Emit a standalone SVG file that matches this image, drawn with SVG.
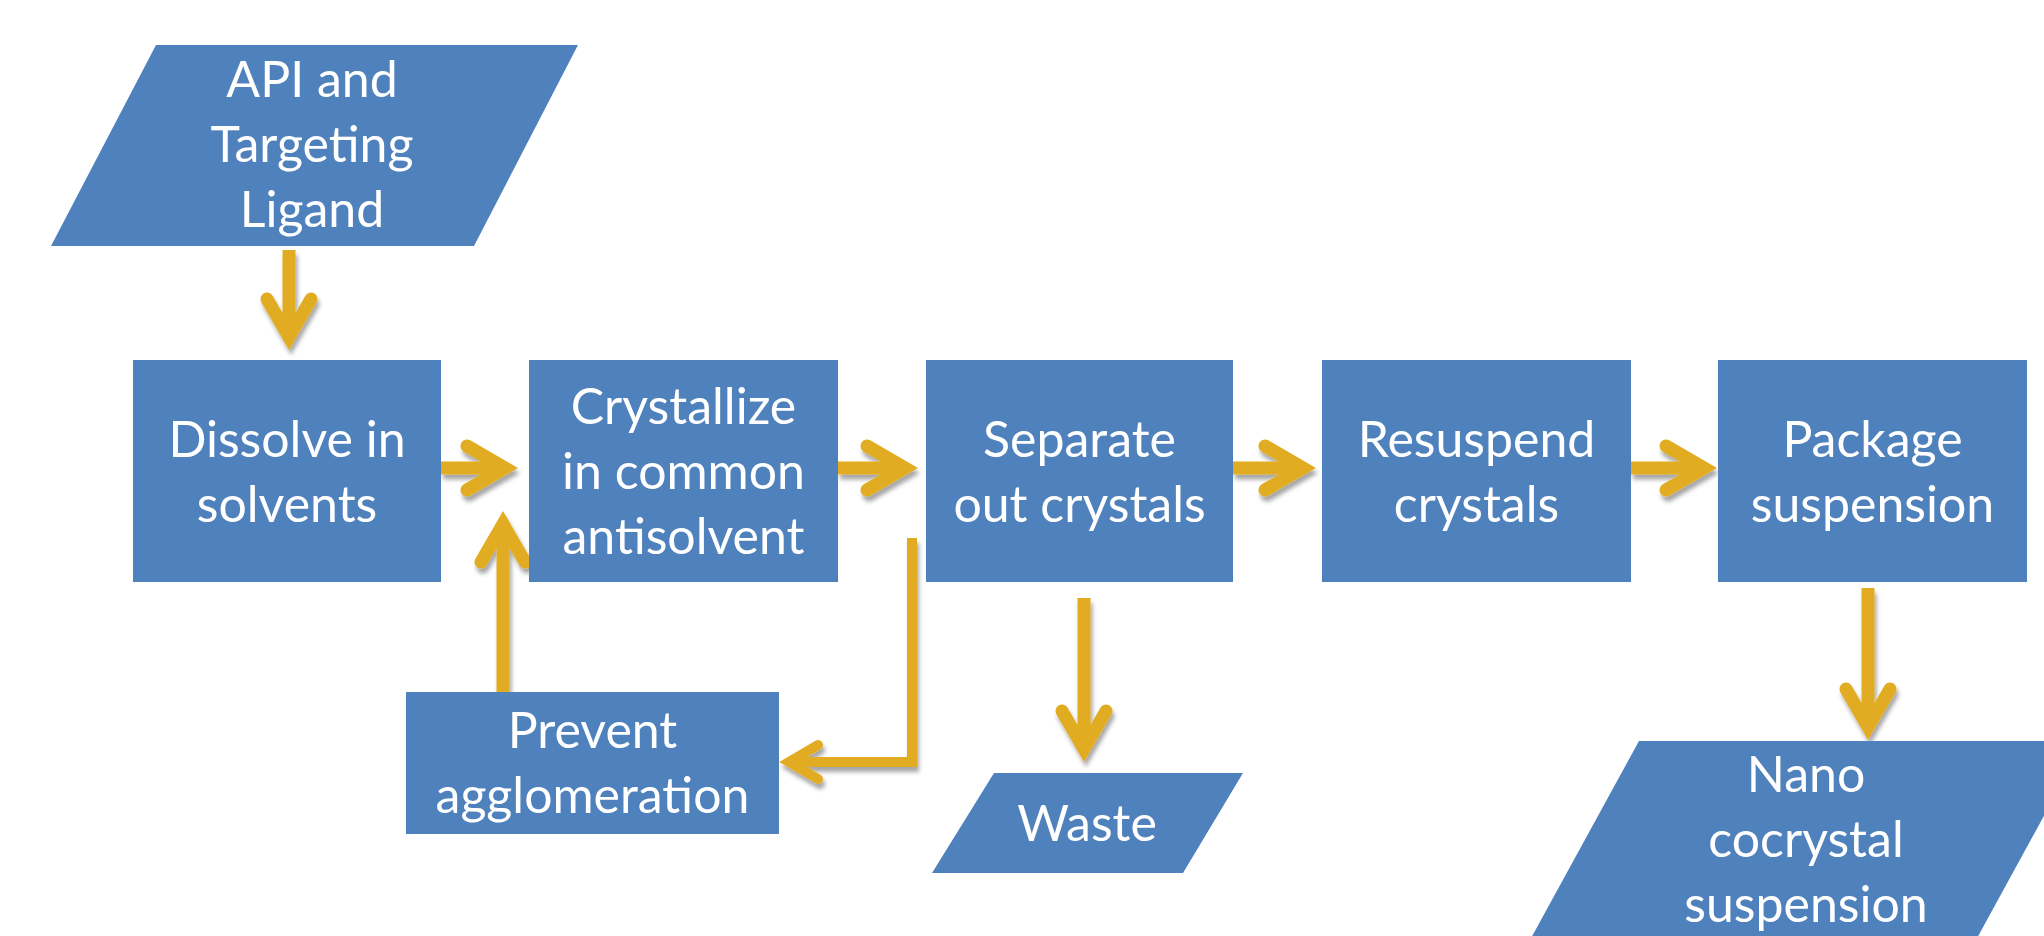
<svg xmlns="http://www.w3.org/2000/svg" width="2044" height="936" viewBox="0 0 2044 936">
<style>
.box{fill:#4F81BD;}
.t{font-family:Lato,"Open Sans","Liberation Sans",sans-serif;font-size:50px;fill:#FFFFFF;text-anchor:middle;}
.c{fill:none;stroke:#E2AC22;stroke-width:13;}
.c2{fill:none;stroke:#E2AC22;stroke-width:10;stroke-linejoin:miter;}
</style>
<defs>
<filter id="sh" x="-20%" y="-20%" width="140%" height="140%">
<feDropShadow dx="2" dy="5" stdDeviation="2" flood-color="#000000" flood-opacity="0.35"/>
</filter>
<marker id="ah" markerUnits="userSpaceOnUse" viewBox="-50 -35 70 70" refX="0" refY="0" markerWidth="70" markerHeight="70" orient="auto" overflow="visible">
<path d="M-38,-22 L0,0 L-38,22" fill="none" stroke="#E2AC22" stroke-width="13" stroke-linejoin="miter" stroke-miterlimit="10" stroke-linecap="round"/>
</marker>
<marker id="ahs" markerUnits="userSpaceOnUse" viewBox="-40 -30 60 60" refX="0" refY="0" markerWidth="60" markerHeight="60" orient="auto" overflow="visible">
<path d="M-29,-17 L0,0 L-29,17" fill="none" stroke="#E2AC22" stroke-width="10" stroke-linejoin="miter" stroke-miterlimit="10" stroke-linecap="round"/>
</marker>
</defs>
<rect width="2044" height="936" fill="#FFFFFF"/>
<g id="connectors" filter="url(#sh)">
<path class="c" d="M289,250 V337" marker-end="url(#ah)"/>
<path class="c" d="M441,468 H505" marker-end="url(#ah)"/>
<path class="c" d="M838,468 H905" marker-end="url(#ah)"/>
<path class="c" d="M1233,468 H1303" marker-end="url(#ah)"/>
<path class="c" d="M1631,468 H1704" marker-end="url(#ah)"/>
<path class="c" d="M1084,598 V749" marker-end="url(#ah)"/>
<path class="c" d="M1868,588 V727" marker-end="url(#ah)"/>
<path class="c" d="M503,692 V524" marker-end="url(#ah)"/>
<path class="c2" d="M912,538 V762 H789" marker-end="url(#ahs)"/>
</g>
<g id="api">
<polygon class="box" points="156,45 578,45 474,246 51,246"/>
<text class="t" x="312" y="97">API and</text>
<text class="t" x="312" y="162">Targeting</text>
<text class="t" x="312" y="227">Ligand</text>
</g>
<g id="dissolve">
<rect class="box" x="133" y="360" width="308" height="222"/>
<text class="t" x="287" y="457">Dissolve in</text>
<text class="t" x="287" y="522">solvents</text>
</g>
<g id="crystallize">
<rect class="box" x="529" y="360" width="309" height="222"/>
<text class="t" x="683.5" y="424">Crystallize</text>
<text class="t" x="683.5" y="489">in common</text>
<text class="t" x="683.5" y="554">antisolvent</text>
</g>
<g id="separate">
<rect class="box" x="926" y="360" width="307" height="222"/>
<text class="t" x="1079.5" y="457">Separate</text>
<text class="t" x="1079.5" y="522">out crystals</text>
</g>
<g id="resuspend">
<rect class="box" x="1322" y="360" width="309" height="222"/>
<text class="t" x="1476.5" y="457">Resuspend</text>
<text class="t" x="1476.5" y="522">crystals</text>
</g>
<g id="package">
<rect class="box" x="1718" y="360" width="309" height="222"/>
<text class="t" x="1872.5" y="457">Package</text>
<text class="t" x="1872.5" y="522">suspension</text>
</g>
<g id="prevent">
<rect class="box" x="406" y="692" width="373" height="142"/>
<text class="t" x="592.5" y="748">Prevent</text>
<text class="t" x="592.5" y="813">agglomeration</text>
</g>
<g id="waste">
<polygon class="box" points="994,773 1243,773 1183,873 932,873"/>
<text class="t" x="1087" y="841">Waste</text>
</g>
<g id="nano">
<polygon class="box" points="1639,741 2085,741 1976,940 1530,940"/>
<text class="t" x="1806" y="792">Nano</text>
<text class="t" x="1806" y="857">cocrystal</text>
<text class="t" x="1806" y="922">suspension</text>
</g>
</svg>
